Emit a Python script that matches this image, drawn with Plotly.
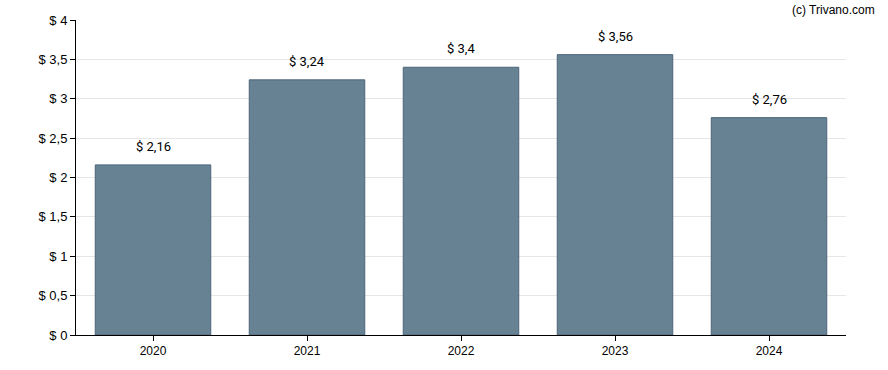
import plotly.graph_objects as go

years = ["2020", "2021", "2022", "2023", "2024"]
values = [2.16, 3.24, 3.40, 3.56, 2.76]
y_ticks = [0, 0.5, 1, 1.5, 2, 2.5, 3, 3.5, 4]
y_tick_labels = ["$ 0", "$ 0,5", "$ 1", "$ 1,5", "$ 2", "$ 2,5", "$ 3", "$ 3,5", "$ 4"]

def fmt(v):
    s = f"{v:.2f}".rstrip("0").rstrip(".")
    return "$ " + s.replace(".", ",")

fam = "Liberation Sans, Arial, sans-serif"
font = dict(family=fam, size=12, color="#000000")

fig = go.Figure()
fig.add_trace(go.Bar(
    x=years, y=values,
    marker=dict(color="#668293", line=dict(color="#4b6478", width=1)),
    hoverinfo="skip",
))

for i, v in enumerate(values):
    fig.add_annotation(x=i, y=v, text=fmt(v), showarrow=False,
                       yanchor="bottom", yshift=9, font=dict(size=13, color="#000", family="Roboto, sans-serif"))

fig.add_annotation(xref="paper", yref="paper", x=1.0403, y=1.0, xanchor="right", yanchor="bottom",
                   text="(c) Trivano.com", showarrow=False, yshift=1,
                   font=dict(size=12, color="#000", family=fam))

fig.update_layout(
    width=888, height=370, autosize=False,
    margin=dict(l=76, r=42, t=20, b=35, autoexpand=False),
    plot_bgcolor="white", paper_bgcolor="white",
    font=font, bargap=0.25, showlegend=False,
    xaxis=dict(type="category", categoryorder="array", categoryarray=years,
               range=[-0.5, len(years) - 0.5],
               showline=True, linecolor="black", linewidth=1, ticks="outside",
               ticklen=5, tickcolor="black", showgrid=False, tickfont=dict(size=12), automargin=False),
    yaxis=dict(range=[0, 4], tickvals=y_ticks, ticktext=y_tick_labels,
               showline=True, linecolor="black", linewidth=1, ticks="outside",
               ticklen=5, tickcolor="black", showgrid=True, gridcolor="#e6e6e6",
               zeroline=False, tickfont=dict(size=13), automargin=False),
)

fig.write_html("out.html", config={"displayModeBar": False},
               post_script="document.body.style.margin='0px';")
